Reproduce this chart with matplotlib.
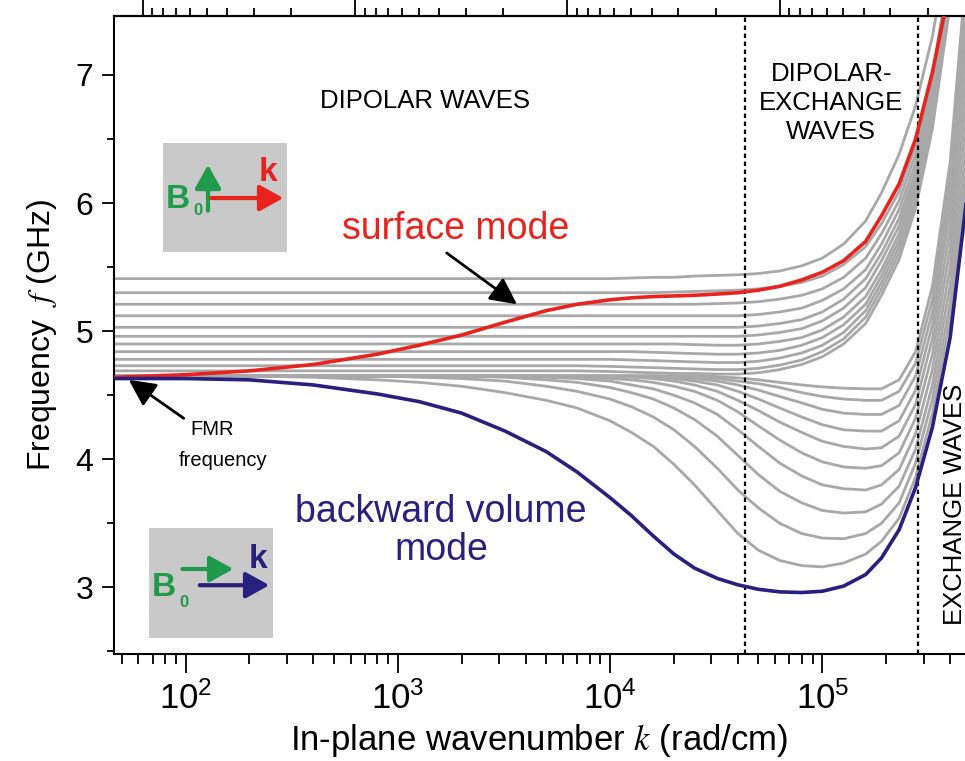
import numpy as np
import matplotlib
matplotlib.use("Agg")
import matplotlib.pyplot as plt
from matplotlib.ticker import NullFormatter, FixedLocator, LogLocator

plt.rcParams['font.family'] = ['Liberation Sans', 'DejaVu Sans']
plt.rcParams['mathtext.fontset'] = 'stix'

# wavenumber grid (rad/cm) shared by all curves
k = [46, 100, 200, 400, 800, 1260, 2000, 3200, 5000, 7000, 1e4, 1.26e4, 1.6e4,
     2e4, 2.5e4, 3.2e4, 4e4, 5e4, 6.3e4, 8e4, 1e5, 1.26e5, 1.6e5, 1.9e5,
     2.3e5, 2.75e5, 3.3e5, 4e5, 4.8e5]

# surface (Damon-Eshbach) mode, GHz
surface = [4.64, 4.66, 4.69, 4.74, 4.82, 4.89, 4.97, 5.07, 5.16, 5.21, 5.245,
           5.26, 5.27, 5.275, 5.28, 5.29, 5.30, 5.32, 5.35, 5.40, 5.46, 5.55,
           5.70, 5.90, 6.15, 6.50, 7.02, 7.70, 8.50]

# backward volume mode, GHz
backward = [4.63, 4.63, 4.62, 4.58, 4.51, 4.45, 4.36, 4.22, 4.06, 3.90, 3.70,
            3.56, 3.40, 3.26, 3.15, 3.07, 3.02, 2.985, 2.965, 2.96, 2.97, 3.01,
            3.10, 3.23, 3.45, 3.78, 4.25, 4.95, 6.05]

# intermediate modes, flat at low k then rising
gray_upper = [
    [5.41]*11 + [5.415, 5.42, 5.42, 5.43, 5.435, 5.44, 5.45, 5.47, 5.51, 5.57, 5.68, 5.86, 6.08, 6.38, 6.76, 7.30, 8.10, 9.0],
    [5.30]*13 + [5.305, 5.31, 5.315, 5.32, 5.33, 5.35, 5.38, 5.43, 5.52, 5.66, 5.84, 6.09, 6.45, 7.00, 7.85, 8.8],
    [5.21]*15 + [5.215, 5.22, 5.23, 5.25, 5.28, 5.33, 5.42, 5.57, 5.76, 6.02, 6.38, 6.94, 7.80, 8.75],
    [5.12]*17 + [5.13, 5.15, 5.18, 5.24, 5.33, 5.48, 5.68, 5.95, 6.31, 6.88, 7.75, 8.7],
    [5.03]*17 + [5.04, 5.06, 5.09, 5.15, 5.25, 5.41, 5.61, 5.88, 6.25, 6.83, 7.71, 8.65],
    [4.96]*17 + [4.97, 4.99, 5.02, 5.08, 5.18, 5.34, 5.55, 5.82, 6.20, 6.78, 7.68, 8.6],
    [4.90]*14 + [4.895, 4.89, 4.89, 4.90, 4.92, 4.95, 5.01, 5.11, 5.27, 5.48, 5.76, 6.15, 6.74, 7.65, 8.6],
    [4.84]*12 + [4.835, 4.83, 4.825, 4.82, 4.82, 4.83, 4.85, 4.89, 4.95, 5.05, 5.21, 5.43, 5.71, 6.10, 6.70, 7.62, 8.6],
    [4.78]*11 + [4.775, 4.77, 4.765, 4.76, 4.755, 4.755, 4.765, 4.79, 4.83, 4.89, 4.99, 5.16, 5.38, 5.66, 6.05, 6.66, 7.60, 8.6],
    [4.73]*10 + [4.725, 4.72, 4.715, 4.71, 4.705, 4.70, 4.70, 4.71, 4.735, 4.775, 4.84, 4.94, 5.11, 5.33, 5.61, 6.00, 6.62, 7.58, 8.6],
    [4.69]*10 + [4.685, 4.68, 4.675, 4.67, 4.67, 4.665, 4.665, 4.675, 4.70, 4.74, 4.80, 4.90, 5.06, 5.28, 5.56, 5.96, 6.58, 7.55, 8.5],
]

# intermediate modes that dip below FMR
gray_lower = [
    [4.65, 4.65, 4.65, 4.64, 4.62, 4.60, 4.57, 4.52, 4.46, 4.40, 4.30, 4.21, 4.10, 3.96, 3.80,
     3.60, 3.42, 3.29, 3.21, 3.17, 3.16, 3.19, 3.26, 3.36, 3.54, 3.86, 4.36, 5.10, 6.15],
    [4.65]*5 + [4.64, 4.63, 4.61, 4.57, 4.53, 4.47, 4.41, 4.33, 4.23, 4.10, 3.93, 3.76, 3.62, 3.50,
                3.42, 3.385, 3.38, 3.42, 3.50, 3.66, 3.97, 4.47, 5.22, 6.30],
    [4.65]*7 + [4.64, 4.62, 4.60, 4.56, 4.52, 4.47, 4.40, 4.31, 4.18, 4.03, 3.88, 3.75, 3.66, 3.60,
                3.58, 3.59, 3.65, 3.79, 4.08, 4.58, 5.36, 6.48],
    [4.65]*8 + [4.64, 4.63, 4.61, 4.58, 4.55, 4.50, 4.44, 4.35, 4.23, 4.10, 3.97, 3.87, 3.80, 3.77,
                3.76, 3.80, 3.92, 4.20, 4.70, 5.50, 6.68],
    [4.65]*9 + [4.64, 4.63, 4.62, 4.60, 4.57, 4.53, 4.46, 4.37, 4.26, 4.15, 4.05, 3.98, 3.94, 3.93,
                3.95, 4.05, 4.32, 4.82, 5.65, 6.88],
    [4.65]*10 + [4.64, 4.64, 4.63, 4.61, 4.58, 4.53, 4.46, 4.38, 4.29, 4.21, 4.14, 4.10, 4.08, 4.09,
                 4.18, 4.43, 4.94, 5.80, 7.08],
    [4.65]*12 + [4.64, 4.63, 4.61, 4.58, 4.53, 4.47, 4.40, 4.33, 4.27, 4.23, 4.22, 4.22, 4.30, 4.54,
                 5.05, 5.95, 7.28],
    [4.65]*13 + [4.64, 4.63, 4.61, 4.58, 4.54, 4.49, 4.44, 4.39, 4.36, 4.35, 4.35, 4.42, 4.65, 5.15,
                 6.08, 7.48],
    [4.65]*14 + [4.64, 4.63, 4.61, 4.59, 4.56, 4.52, 4.49, 4.47, 4.46, 4.46, 4.53, 4.75, 5.25, 6.20, 7.68],
    [4.65]*15 + [4.645, 4.635, 4.62, 4.60, 4.58, 4.565, 4.555, 4.55, 4.55, 4.62, 4.84, 5.35, 6.32, 7.88],
]

regime_bounds = [4.3e4, 2.83e5]
x_ticks = [1e2, 1e3, 1e4, 1e5]
x_tick_labels = [r'$\mathregular{10^{2}}$', r'$\mathregular{10^{3}}$',
                 r'$\mathregular{10^{4}}$', r'$\mathregular{10^{5}}$']
y_ticks = [3, 4, 5, 6, 7]

RED = '#e8231d'
NAVY = '#28207f'
GREEN = '#1f9a4b'
GRAY = '#a8a8a8'

fig = plt.figure(figsize=(9.65, 7.61), dpi=100)
ax = fig.add_axes([114/965, 1 - 654/761, 851/965, 638/761])

for f in gray_upper + gray_lower:
    ax.plot(k, f, color=GRAY, lw=2.0, zorder=2)
ax.plot(k, surface, color=RED, lw=2.6, zorder=4)
ax.plot(k, backward, color=NAVY, lw=2.6, zorder=4)

for xb in regime_bounds:
    ax.axvline(xb, color='k', ls=(0, (2.0, 1.6)), lw=1.6, zorder=3)

ax.set_xscale('log')
ax.set_xlim(46, 4.7e5)
ax.set_ylim(2.48, 7.46)

ax.set_xticks(x_ticks)
ax.set_xticklabels(x_tick_labels, fontsize=25)
ax.xaxis.set_minor_locator(LogLocator(base=10, subs=np.arange(2, 10)))
ax.xaxis.set_minor_formatter(NullFormatter())
ax.set_yticks(y_ticks)
ax.yaxis.set_minor_locator(FixedLocator([2.5, 3.5, 4.5, 5.5, 6.5]))
ax.tick_params(axis='y', which='major', labelsize=23, length=9, width=1.3, pad=6)
ax.tick_params(axis='y', which='minor', length=5, width=1.3)
ax.tick_params(axis='x', which='major', length=14, width=1.3, pad=6)
ax.tick_params(axis='x', which='minor', length=7, width=1.3)
ax.spines['right'].set_visible(False)
for s in ['left', 'bottom', 'top']:
    ax.spines[s].set_linewidth(1.5)

ax.set_xlabel('In-plane wavenumber $k$ (rad/cm)', fontsize=25, labelpad=4)
ax.set_ylabel('Frequency  $f$ (GHz)', fontsize=23, labelpad=12)

# wavelength axis on top (no labels)
with np.errstate(divide='ignore'):
    sec = ax.secondary_xaxis('top', functions=(lambda x: 2*np.pi/x, lambda x: 2*np.pi/x))
sec.xaxis.set_major_formatter(NullFormatter())
sec.xaxis.set_minor_formatter(NullFormatter())
sec.tick_params(which='major', length=12, width=1.3)
sec.tick_params(which='minor', length=6, width=1.3)
sec.spines['top'].set_linewidth(1.5)

# region labels
ax.text(1340, 6.80, 'DIPOLAR WAVES', fontsize=18.5, ha='center', va='center')
ax.text(1.1e5, 6.78, 'DIPOLAR-\nEXCHANGE\nWAVES', fontsize=18.5, ha='center',
        va='center', linespacing=1.25)
ax.text(0.988, 0.234, 'EXCHANGE WAVES', transform=ax.transAxes, fontsize=18.5,
        rotation=90, ha='center', va='center')

ax.text(1880, 5.80, 'surface mode', color=RED, fontsize=27, ha='center', va='center')
ax.text(1600, 3.44, 'backward volume\nmode', color=NAVY, fontsize=27, ha='center',
        va='center', linespacing=1.05)
ax.text(105, 4.23, 'FMR', fontsize=14.5, ha='left', va='center')
ax.text(150, 3.99, 'frequency', fontsize=14.5, ha='center', va='center')

arrow_kw = dict(arrowstyle='-|>,head_length=0.9,head_width=0.45', color='k', lw=2,
                mutation_scale=18, shrinkA=0, shrinkB=0)
ax.annotate('', xy=(3640, 5.21), xytext=(1700, 5.61), arrowprops=arrow_kw)
ax.annotate('', xy=(54, 4.62), xytext=(98, 4.32), arrowprops=arrow_kw)

# geometry insets
def inset(rect):
    a = fig.add_axes(rect)
    a.set_facecolor('#c9c9c9')
    a.set_xlim(0, 1)
    a.set_ylim(0, 1)
    a.set_xticks([])
    a.set_yticks([])
    for s in a.spines.values():
        s.set_visible(False)
    return a

def inset_arrow(a, start, end, color):
    a.annotate('', xy=end, xytext=start,
               arrowprops=dict(arrowstyle='-|>,head_length=0.9,head_width=0.5',
                               color=color, lw=3, mutation_scale=16,
                               shrinkA=0, shrinkB=0))

top = inset([163/965, 1 - 252/761, 124/965, 109/761])
top.text(0.12, 0.48, 'B', color=GREEN, fontsize=24, fontweight='bold', ha='center', va='center')
top.text(0.285, 0.385, '0', color=GREEN, fontsize=12, fontweight='bold', ha='center', va='center')
inset_arrow(top, (0.363, 0.38), (0.363, 0.80), GREEN)
inset_arrow(top, (0.39, 0.495), (0.97, 0.495), RED)
top.text(0.85, 0.73, 'k', color=RED, fontsize=24, fontweight='bold', ha='center', va='center')

bot = inset([149/965, 1 - 638/761, 124/965, 110/761])
bot.text(0.12, 0.46, 'B', color=GREEN, fontsize=24, fontweight='bold', ha='center', va='center')
bot.text(0.28, 0.32, '0', color=GREEN, fontsize=12, fontweight='bold', ha='center', va='center')
inset_arrow(bot, (0.27, 0.627), (0.68, 0.627), GREEN)
inset_arrow(bot, (0.41, 0.48), (0.97, 0.48), NAVY)
bot.text(0.88, 0.71, 'k', color=NAVY, fontsize=24, fontweight='bold', ha='center', va='center')

fig.savefig('out.png', dpi=100)
